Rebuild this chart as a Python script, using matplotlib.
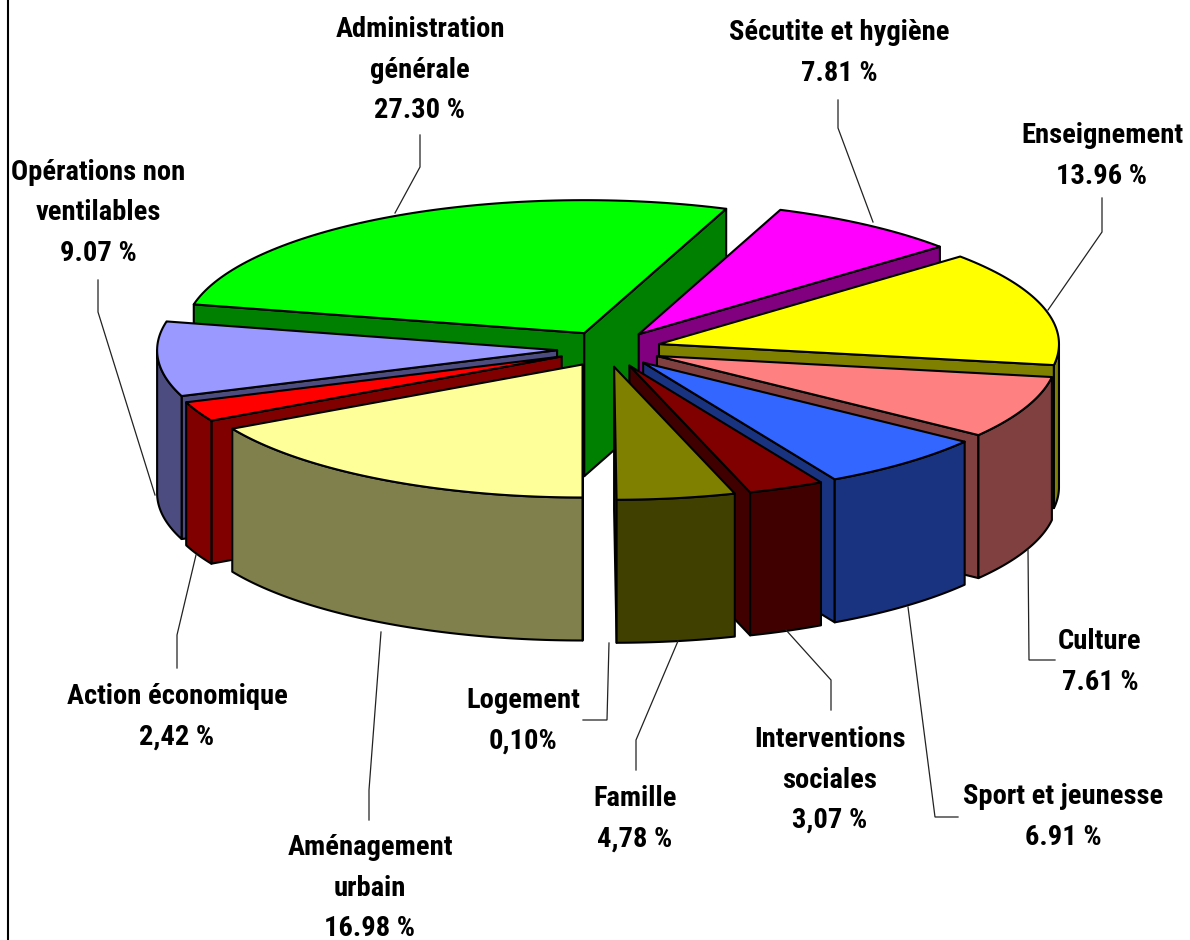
import numpy as np
import matplotlib
matplotlib.use('Agg')
import matplotlib.pyplot as plt
from matplotlib.patches import Polygon

# Slices, clockwise starting from Sécutite et hygiène
names = ['Sécutite et hygiène', 'Enseignement', 'Culture', 'Sport et jeunesse',
         'Interventions\nsociales', 'Famille', 'Logement', 'Aménagement\nurbain',
         'Action économique', 'Opérations non\nventilables', 'Administration\ngénérale']
values = [7.81, 13.96, 7.61, 6.91, 3.07, 4.78, 0.10, 16.98, 2.42, 9.07, 27.30]
value_labels = ['7.81 %', '13.96 %', '7.61 %', '6.91 %', '3,07 %', '4,78 %', '0,10%',
                '16.98 %', '2,42 %', '9.07 %', '27.30 %']
top_colors = ['#FF00FF', '#FFFF00', '#FF8080', '#3366FF', '#800000', '#808000', '#808000',
              '#FFFF99', '#FF0000', '#9999FF', '#00FF00']
side_colors = ['#800080', '#808000', '#804040', '#1A3380', '#400000', '#404000', '#404000',
               '#80804C', '#800000', '#4C4C80', '#008000']

# Layout in image pixels
cx, cy = 609, 349
rx, ry = 400, 133
depth = 143
explode_x, explode_y = 52, 18
start_angle = 69.26
draw_order = [10, 0, 1, 9, 8, 2, 3, 4, 7, 6, 5]
shift_x = {5: -3, 6: 5}

label_pos = [(839, 53), (1102, 156), (1100, 662), (1063, 817), (830, 780), (635, 819),
             (523, 721), (370, 888), (177, 717), (98, 213), (420, 70)]
leaders = [[(838, 100), (838, 128), (873, 222)],
           [(1102, 198), (1102, 232), (1048, 310)],
           [(1028, 550), (1029, 660), (1055, 660)],
           [(908, 607), (935, 817), (958, 817)],
           [(786, 630), (831, 680), (831, 710)],
           [(678, 641), (636, 740), (636, 770)],
           [(609, 643), (607, 720), (583, 720)],
           [(381, 632), (369, 790), (369, 820)],
           [(196, 555), (177, 635), (177, 668)],
           [(98, 280), (98, 312), (155, 495)],
           [(420, 135), (420, 167), (395, 213)]]

plt.rcParams['font.family'] = ['Roboto Condensed', 'Liberation Sans', 'DejaVu Sans']

fig = plt.figure(figsize=(11.9, 9.4), dpi=100)
ax = fig.add_axes([0, 0, 1, 1])
ax.set_xlim(0, 1190)
ax.set_ylim(940, 0)
ax.axis('off')

edges = start_angle - np.cumsum([0] + values) * 3.6


def rim(a1, a2, x0, y0):
    t = np.radians(np.linspace(a1, a2, 80))
    return np.column_stack([x0 + rx * np.cos(t), y0 - ry * np.sin(t)])


def poly(points, color):
    ax.add_patch(Polygon(points, closed=True, facecolor=color, edgecolor='black',
                         linewidth=1.5, joinstyle='round'))


for i in draw_order:
    a1, a2 = edges[i], edges[i + 1]
    mid = np.radians((a1 + a2) / 2)
    x0 = cx + explode_x * np.cos(mid) + shift_x.get(i, 0)
    y0 = cy - explode_y * np.sin(mid)
    apex = np.array([x0, y0])
    drop = np.array([0, depth])

    # flat cut faces, only those turned towards the viewer
    for a, normal in [(a1, a1 + 90), (a2, a2 - 90)]:
        if np.sin(np.radians(normal)) < 0 and i != 6:
            p = rim(a, a, x0, y0)[0]
            poly([apex, p, p + drop, apex + drop], side_colors[i])

    # outer wall, front half of the rim only
    t = np.linspace(a1, a2, 160)
    front = t[np.sin(np.radians(t)) < 0]
    if len(front) > 1 and i != 6:
        r = rim(front[0], front[-1], x0, y0)
        poly(np.vstack([r, (r + drop)[::-1]]), side_colors[i])

    # top, Logement is too thin to carry an outline
    if i == 6:
        ax.add_patch(Polygon(np.vstack([apex, rim(a1, a2, x0, y0)]), closed=True,
                             facecolor=top_colors[i], edgecolor='none'))
    else:
        poly(np.vstack([apex, rim(a1, a2, x0, y0)]), top_colors[i])

for pts in leaders:
    xs, ys = zip(*pts)
    ax.plot(xs, ys, color='#222222', lw=0.9, solid_joinstyle='miter')

for name, val, (x, y) in zip(names, value_labels, label_pos):
    ax.text(x, y, name + '\n' + val, ha='center', va='center', fontsize=20.5,
            fontweight='bold', color='black', linespacing=1.62)

ax.plot([7.5, 7.5], [0, 940], color='black', lw=1.5)

fig.savefig('out.png', dpi=100, facecolor='white')
